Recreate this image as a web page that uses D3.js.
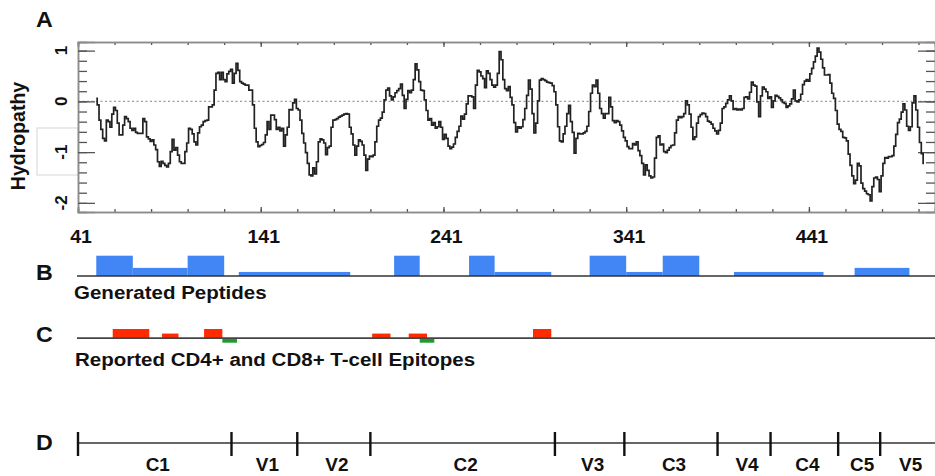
<!DOCTYPE html>
<html>
<head>
<meta charset="utf-8">
<script src="https://cdn.jsdelivr.net/npm/d3@7"></script>
<style>
  body { margin: 0; background: #fff; }
  svg text { font-family: "Liberation Sans", Arial, sans-serif; font-weight: bold; fill: #111; }
</style>
</head>
<body>
<div id="chart"></div>
<script>
// hydropathy profile + peptide / epitope / region tracks

// panel A: hydropathy score per residue, starting at residue 51
const firstResidue = 51;
const hydropathy = [
    0.06, -0.07, -0.37, -0.55, -0.73, -0.78, -0.37, -0.40, -0.51, -0.25,
    -0.12, -0.18, -0.43, -0.66, -0.66, -0.47, -0.30, -0.34, -0.40, -0.53,
    -0.57, -0.53, -0.61, -0.63, -0.63, -0.63, -0.34, -0.40, -0.70, -0.74,
    -0.79, -0.76, -0.86, -0.95, -1.19, -1.28, -1.18, -1.22, -1.26, -1.29,
    -1.22, -0.99, -0.75, -0.96, -0.91, -1.06, -1.19, -1.22, -1.22, -0.99,
    -0.82, -0.53, -0.55, -0.64, -0.80, -0.86, -0.62, -0.50, -0.47, -0.40,
    -0.38, -0.37, -0.11, -0.11, -0.07, 0.22, 0.55, 0.57, 0.43, 0.57,
    0.43, 0.39, 0.54, 0.59, 0.63, 0.36, 0.55, 0.75, 0.61, 0.39,
    0.36, 0.34, 0.32, 0.32, 0.22, 0.22, -0.07, -0.53, -0.80, -0.89,
    -0.87, -0.85, -0.81, -0.66, -0.40, -0.55, -0.27, -0.27, -0.36, -0.55,
    -0.51, -0.58, -0.53, -0.88, -0.66, -0.51, -0.16, -0.17, -0.03, 0.04,
    -0.14, -0.17, -0.37, -0.63, -0.82, -1.01, -1.22, -1.45, -1.47, -1.31,
    -1.43, -1.19, -0.80, -0.74, -0.76, -0.82, -1.05, -0.91, -0.88, -0.51,
    -0.37, -0.36, -0.34, -0.31, -0.29, -0.27, -0.25, -0.24, -0.25, -0.51,
    -0.64, -0.86, -1.06, -0.88, -0.76, -0.79, -0.86, -1.06, -1.36, -1.14,
    -1.08, -1.09, -1.06, -0.80, -0.49, -0.37, -0.33, -0.21, 0.03, 0.22,
    0.26, 0.11, 0.03, 0.09, 0.17, 0.21, 0.25, 0.34, 0.12, -0.14,
    0.04, 0.21, 0.17, 0.22, 0.43, 0.74, 0.62, 0.39, 0.22,
    0.21, 0.03, -0.18, -0.37, -0.34, -0.47, -0.42, -0.53, -0.50, -0.40, -0.51,
    -0.75, -0.65, -0.73, -0.88, -0.93, -0.90, -0.84, -0.71, -0.59, -0.49,
    -0.29, -0.35, -0.25, -0.05, 0.11, 0.11, 0.09, -0.14, 0.32, 0.61,
    0.58, 0.50, 0.45, 0.27, 0.60, 0.55, 0.43, 0.32, 0.28, 0.32,
    0.55, 0.98, 0.82, 0.43, 0.25, 0.21, 0.29, 0.08, -0.07, -0.42,
    -0.60, -0.50, -0.53, -0.50, -0.36, -0.14, 0.12, 0.42, 0.24, -0.24,
    -0.62, -0.43, 0.01, 0.42, 0.45, 0.43, 0.41, 0.38, 0.37, 0.36,
    0.31, 0.19, -0.07, -0.50, -0.78, -0.80, -0.64, -0.49, -0.24, -0.08,
    -0.40, -0.61, -1.02, -0.73, -0.63, -0.64, -0.64, -0.62, -0.59, -0.49,
    -0.20, 0.16, 0.32,
    0.29, 0.42, 0.16, -0.14, -0.24, -0.33, -0.24,
    -0.24, 0.08, -0.11, -0.38, -0.42, -0.38, -0.40, -0.47, -0.58, -0.71,
    -0.78, -0.89, -0.93, -0.93, -0.83, -0.86, -0.80, -0.97, -1.07, -1.22,
    -1.45, -1.25, -1.36, -1.47, -1.51, -1.49, -1.12, -0.71, -0.68, -0.86,
    -0.84, -0.99, -1.01, -0.96, -0.91, -0.87, -0.86, -0.62, -0.37, -0.30,
    -0.32, -0.30, -0.24, 0.01, -0.07, -0.25, -0.51, -0.75, -0.70, -0.43,
    -0.30, -0.26, -0.23, -0.24, -0.30, -0.39, -0.41, -0.45, -0.53, -0.58,
    -0.64, -0.57, -0.43, -0.14, -0.11, -0.04, 0.03, 0.11, 0.01, -0.16,
    -0.14, -0.17, -0.15, -0.17, -0.14, 0.08, 0.09, 0.05, 0.18, 0.38,
    0.32, 0.30, -0.01, -0.30, 0.11, 0.28, 0.24,
    0.19, 0.06, 0.09,
    -0.12, 0.01, 0.12, 0.10, 0.07, 0.03, -0.02, -0.04, -0.12, -0.09,
    -0.05, 0.05, 0.22, 0.01, -0.01, 0.03, 0.14, 0.33, 0.40, 0.43,
    0.40, 0.54, 0.65, 0.78, 0.89, 1.05, 0.97, 0.83, 0.66, 0.52,
    0.52, 0.53, 0.36, 0.16, 0.06, -0.18, -0.45, -0.55, -0.59, -0.71,
    -0.72, -0.78, -1.04, -1.26, -1.47, -1.62, -1.55, -1.22, -1.27, -1.61,
    -1.72, -1.77, -1.82, -1.84, -1.96, -1.68, -1.51, -1.49, -1.54, -1.78,
    -1.47, -1.22, -1.11, -1.12, -1.09, -1.09, -1.07, -0.88, -0.65, -0.42,
    -0.35, -0.21, -0.05, -0.17, -0.49, -0.57, -0.50, -0.03, 0.11, -0.17,
    -0.51, -0.81, -1.03, -1.22
];
const residueTicks = [41, 141, 241, 341, 441];
const hydroTicks = [-2, -1, 0, 1];

// panel B: generated peptides [start, end, coverage]
const peptideStart = [51, 71, 101, 129, 214, 255, 269, 321, 341, 361, 400, 466];
const peptideEnd   = [71, 101, 121, 190, 228, 269, 300, 341, 361, 381, 449, 496];
const peptideCover = [5, 2, 5, 1, 5, 5, 1, 5, 1, 5, 1, 2];

// panel C: reported epitopes (CD4+ above, CD8+ below)
const cd4Start = [60, 87, 110, 202, 222, 290];
const cd4End   = [80, 96, 120, 212, 232, 300];
const cd4Count = [2, 1, 2, 1, 1, 2];
const cd8Start = [120, 228];
const cd8End   = [128, 236];
const cd8Count = [1, 1];

// panel D: constant / variable regions
const regionBounds = [41, 125, 161, 201, 302, 340, 391, 420, 457, 480, 510];
const regionNames = ["C1", "V1", "V2", "C2", "V3", "C3", "V4", "C4", "C5", "V5"];

const width = 935, height = 476;
const stretch = 1.08;   // the original lettering is a bit wider than Arial

let svg = d3.select("#chart")
    .append("svg")
    .attr("width", width)
    .attr("height", height);

let x = d3.scaleLinear().domain([41, 510]).range([78, 935]);
let y = d3.scaleLinear().domain([-2.18, 1.17]).range([212, 42]);

let place = (tx, ty) => "translate(" + tx + "," + ty + ") scale(" + stretch + ",1)";

// ---------- panel A ----------
// stray box left of the axis in the original figure
svg.append("rect")
    .attr("x", 37).attr("y", 128)
    .attr("width", 41).attr("height", 47)
    .attr("fill", "none")
    .attr("stroke", "#d6d6d6")
    .attr("stroke-width", 1);

svg.append("line")
    .attr("x1", x(41)).attr("x2", x(510))
    .attr("y1", y(0)).attr("y2", y(0))
    .attr("stroke", "#9a9a9a")
    .attr("stroke-width", 1.2)
    .attr("stroke-dasharray", "2,2.5");

let minorX = d3.range(41, 510, 20);
let minorY = d3.range(-20, 11, 2).map(d => d / 10);

function drawAxis(axis, tx, ty, size, values) {
    let g = svg.append("g")
        .attr("transform", "translate(" + tx + "," + ty + ")")
        .call(axis.tickValues(values).tickSize(size).tickFormat(""));
    g.select(".domain").attr("stroke", "#8c8c8c").attr("stroke-width", 1.5);
    g.selectAll(".tick line").attr("stroke", "#555").attr("stroke-width", 1.3);
    return g;
}

drawAxis(d3.axisBottom(x), 0, 42, 3, minorX);
drawAxis(d3.axisTop(x), 0, 212, 3, minorX);
drawAxis(d3.axisBottom(x), 0, 42, 5, residueTicks);
drawAxis(d3.axisTop(x), 0, 212, 5, residueTicks);
drawAxis(d3.axisRight(y), 78, 0, 9, minorY);
drawAxis(d3.axisRight(y), 78, 0, 17, hydroTicks);
drawAxis(d3.axisLeft(y), 935, 0, 9, minorY);
drawAxis(d3.axisLeft(y), 935, 0, 17, hydroTicks);

let line = d3.line()
    .curve(d3.curveStep)
    .x((d, i) => x(firstResidue + i))
    .y(d => y(d));

svg.append("path")
    .datum(hydropathy)
    .attr("fill", "none")
    .attr("stroke", "#222")
    .attr("stroke-width", 1.7)
    .attr("d", line);

svg.selectAll(".xlab")
    .data(residueTicks)
    .enter().append("text")
    .attr("class", "xlab")
    .attr("transform", d => place(x(d) + 3, 243))
    .attr("text-anchor", "middle")
    .style("font-size", "18px")
    .text(d => d);

svg.selectAll(".ylab")
    .data(hydroTicks)
    .enter().append("text")
    .attr("class", "ylab")
    .attr("transform", d => "translate(67," + y(d) + ") rotate(-90)")
    .attr("text-anchor", "middle")
    .style("font-size", "17px")
    .text(d => d);

svg.append("text")
    .attr("transform", "translate(25,136) rotate(-90)")
    .attr("text-anchor", "middle")
    .style("font-size", "19.5px")
    .text("Hydropathy");

// ---------- panel B ----------
let yB = d3.scaleLinear().domain([0, 5]).range([276, 255.7]);

svg.selectAll(".pep")
    .data(peptideStart)
    .enter().append("rect")
    .attr("class", "pep")
    .attr("x", d => x(d))
    .attr("width", (d, i) => x(peptideEnd[i]) - x(d))
    .attr("y", (d, i) => yB(peptideCover[i]))
    .attr("height", (d, i) => yB(0) - yB(peptideCover[i]))
    .attr("fill", "#4286f5");

svg.append("line")
    .attr("x1", 77).attr("x2", 935)
    .attr("y1", yB(0)).attr("y2", yB(0))
    .attr("stroke", "#333").attr("stroke-width", 1.6);

svg.append("text")
    .attr("transform", place(74, 298.5))
    .style("font-size", "19px")
    .text("Generated Peptides");

// ---------- panel C ----------
let yC = d3.scaleLinear().domain([-1, 2]).range([342.7, 329]);

svg.selectAll(".cd4")
    .data(cd4Start)
    .enter().append("rect")
    .attr("class", "cd4")
    .attr("x", d => x(d))
    .attr("width", (d, i) => x(cd4End[i]) - x(d))
    .attr("y", (d, i) => yC(cd4Count[i]))
    .attr("height", (d, i) => yC(0) - yC(cd4Count[i]))
    .attr("fill", "#ff2a00");

svg.selectAll(".cd8")
    .data(cd8Start)
    .enter().append("rect")
    .attr("class", "cd8")
    .attr("x", d => x(d))
    .attr("width", (d, i) => x(cd8End[i]) - x(d))
    .attr("y", yC(0))
    .attr("height", (d, i) => yC(-cd8Count[i]) - yC(0))
    .attr("fill", "#1f9a2e");

svg.append("line")
    .attr("x1", 77).attr("x2", 935)
    .attr("y1", yC(0)).attr("y2", yC(0))
    .attr("stroke", "#444").attr("stroke-width", 1.6);

svg.append("text")
    .attr("transform", place(75, 366))
    .style("font-size", "19px")
    .text("Reported CD4+ and CD8+ T-cell Epitopes");

// ---------- panel D ----------
let yD = 443;
svg.append("line")
    .attr("x1", x(41)).attr("x2", 935)
    .attr("y1", yD).attr("y2", yD)
    .attr("stroke", "#333").attr("stroke-width", 1.6);

svg.selectAll(".rtick")
    .data(regionBounds.slice(0, -1))
    .enter().append("line")
    .attr("class", "rtick")
    .attr("x1", d => x(d)).attr("x2", d => x(d))
    .attr("y1", yD - 11).attr("y2", yD + 13)
    .attr("stroke", "#111").attr("stroke-width", 2.4);

svg.selectAll(".rlab")
    .data(regionNames)
    .enter().append("text")
    .attr("class", "rlab")
    .attr("transform", (d, i) => place((x(regionBounds[i]) + x(regionBounds[i + 1])) / 2 + 3, 471))
    .attr("text-anchor", "middle")
    .style("font-size", "17.5px")
    .text(d => d);

// panel letters
let letters = [["A", 27], ["B", 280], ["C", 342], ["D", 450]];
svg.selectAll(".letter")
    .data(letters)
    .enter().append("text")
    .attr("class", "letter")
    .attr("transform", d => place(36, d[1]))
    .style("font-size", "21.5px")
    .text(d => d[0]);
</script>
</body>
</html>
